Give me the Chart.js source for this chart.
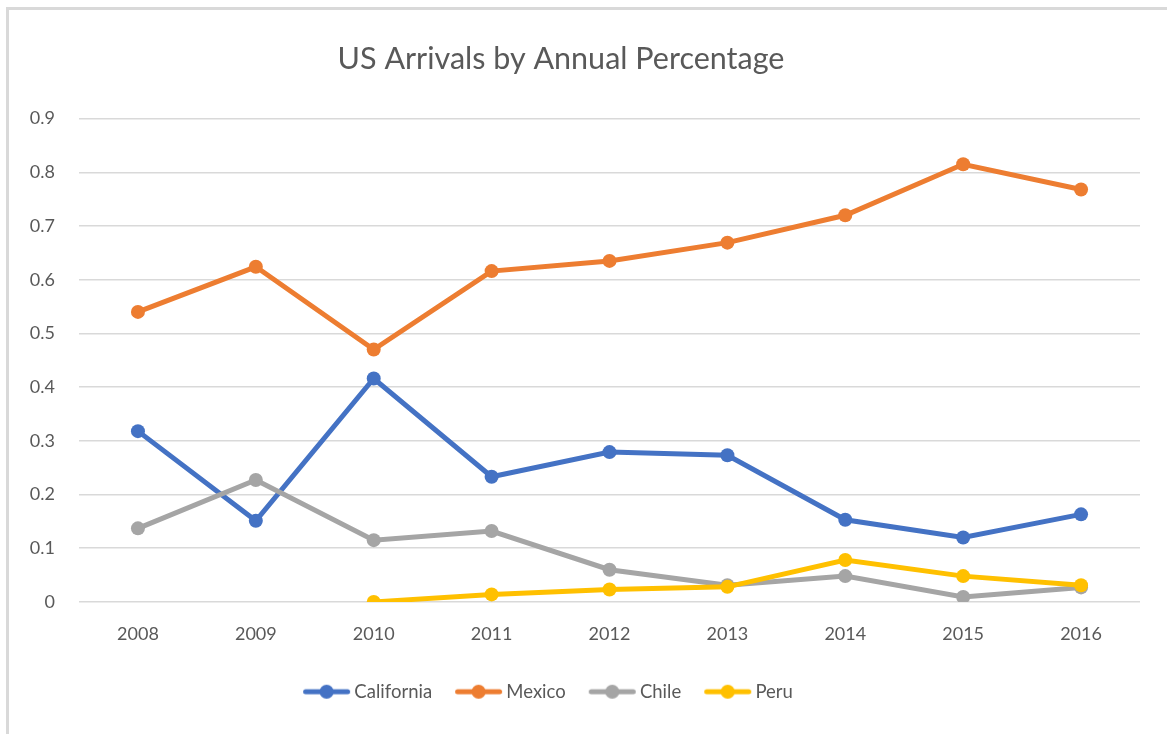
<!DOCTYPE html>
<html>
<head>
<meta charset="utf-8">
<script src="https://cdn.jsdelivr.net/npm/chart.js@4"></script>
<style>
  html, body { margin: 0; padding: 0; background: #fff; }
  #wrap { position: relative; width: 1167px; height: 734px; }
  #frame { position: absolute; left: 6px; top: 7px; right: 0; bottom: 0;
           border-left: 3px solid #d9d9d9; border-top: 3px solid #d9d9d9; pointer-events: none; }
</style>
</head>
<body>
<div id="wrap">
  <canvas id="chart" width="1167" height="734"></canvas>
  <div id="frame"></div>
</div>
<script>
const years = ['2008', '2009', '2010', '2011', '2012', '2013', '2014', '2015', '2016'];
const california = [0.318, 0.151, 0.416, 0.233, 0.279, 0.273, 0.153, 0.120, 0.163];
const mexico = [0.540, 0.624, 0.470, 0.616, 0.635, 0.669, 0.720, 0.815, 0.768];
const chile = [0.137, 0.227, 0.115, 0.132, 0.060, 0.031, 0.048, 0.009, 0.027];
const peru = [null, null, 0, 0.014, 0.023, 0.028, 0.078, 0.048, 0.031];
const yTicks = [0, 0.1, 0.2, 0.3, 0.4, 0.5, 0.6, 0.7, 0.8, 0.9];

const textColor = '#595959';
const font = 'Lato';

// line-with-dot swatch like excel's legend; the image is centred on a 48px
// legend box, so the left part stays empty to widen the gap between items
function swatch(color) {
  const c = document.createElement('canvas');
  c.width = 60; c.height = 16;
  const g = c.getContext('2d');
  g.strokeStyle = color;
  g.lineWidth = 5;
  g.lineCap = 'round';
  g.beginPath(); g.moveTo(14.5, 8); g.lineTo(56.5, 8); g.stroke();
  g.fillStyle = color;
  g.beginPath(); g.arc(35.5, 8, 7, 0, Math.PI * 2); g.fill();
  return c;
}

function series(label, data, color, order) {
  return {
    label: label,
    data: data,
    borderColor: color,
    backgroundColor: color,
    borderWidth: 5,
    pointRadius: 7,
    pointHoverRadius: 7,
    pointBorderWidth: 0,
    tension: 0,
    order: order,
    spanGaps: false
  };
}

// excel centres title and legend a bit left of the plot; nudge them
const nudge = {
  id: 'nudge',
  afterLayout(chart) {
    chart.titleBlock.left -= 18;
    chart.legend.left -= 50;
  }
};

new Chart(document.getElementById('chart'), {
  type: 'line',
  data: {
    labels: years,
    datasets: [
      series('California', california, '#4472C4', 3),
      series('Mexico', mexico, '#ED7D31', 2),
      series('Chile', chile, '#A5A5A5', 1),
      series('Peru', peru, '#FFC000', 0)
    ]
  },
  plugins: [nudge],
  options: {
    responsive: false,
    animation: false,
    layout: { padding: { left: 0, right: 27, top: 0, bottom: 23 } },
    plugins: {
      title: {
        display: true,
        text: 'US Arrivals by Annual Percentage',
        color: textColor,
        font: { family: font, size: 30.5, weight: 'normal' },
        padding: { top: 41, bottom: 41 }
      },
      legend: {
        position: 'bottom',
        labels: {
          usePointStyle: true,
          pointStyleWidth: 48,
          color: textColor,
          font: { family: font, size: 18.5 },
          padding: 17,
          generateLabels: (chart) => chart.data.datasets.map((ds, i) => ({
            text: ds.label,
            pointStyle: swatch(ds.borderColor),
            fillStyle: ds.borderColor,
            strokeStyle: ds.borderColor,
            lineWidth: 0,
            fontColor: textColor,
            hidden: false,
            datasetIndex: i
          }))
        }
      },
      tooltip: { enabled: false }
    },
    scales: {
      x: {
        offset: true,
        grid: { display: false, drawTicks: false },
        border: { display: false },
        ticks: { color: textColor, font: { family: font, size: 18 }, padding: 21 }
      },
      y: {
        min: 0,
        max: 0.9,
        afterBuildTicks: (scale) => { scale.ticks = yTicks.map(v => ({ value: v })); },
        afterFit: (scale) => { scale.width = 79; },
        grid: { color: '#d9d9d9', lineWidth: 1.5, drawTicks: false },
        border: { display: false },
        ticks: { color: textColor, font: { family: font, size: 18 }, padding: 24 }
      }
    }
  }
});
</script>
</body>
</html>
